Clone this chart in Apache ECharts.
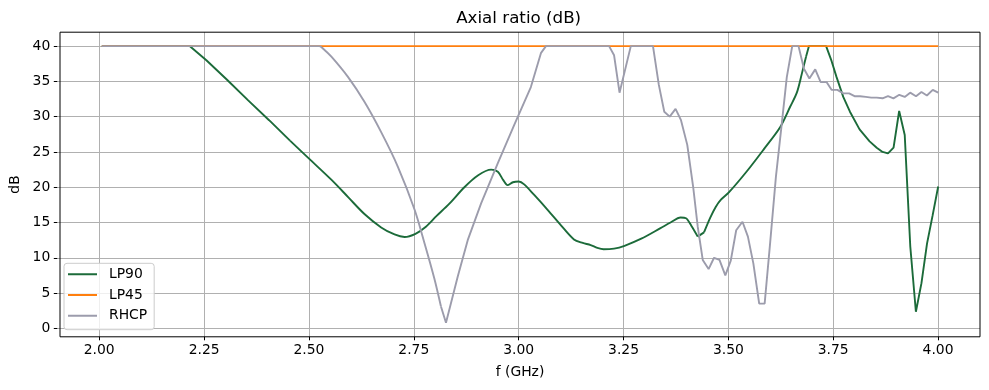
<!DOCTYPE html>
<html><head><meta charset="utf-8">
<script src="https://cdn.jsdelivr.net/npm/echarts@6/dist/echarts.min.js"></script>
<style>html,body{margin:0;padding:0;background:#fff}#c{width:989px;height:390px}</style>
</head><body><div id="c"></div>
<script>
// ---------- data ----------
const xTickValues = [2.00, 2.25, 2.50, 2.75, 3.00, 3.25, 3.50, 3.75, 4.00];
const yTickValues = [0, 5, 10, 15, 20, 25, 30, 35, 40];

const lp90X = [2.00, 2.21, 2.25, 2.30, 2.35, 2.40, 2.45, 2.50, 2.55, 2.589, 2.628, 2.668, 2.70, 2.724, 2.75, 2.775, 2.80, 2.83, 2.867, 2.90, 2.931, 2.947, 2.96, 2.97, 2.983, 2.997, 3.01, 3.034, 3.066, 3.098, 3.129, 3.15, 3.169, 3.185, 3.20, 3.225, 3.25, 3.29, 3.336, 3.36, 3.384, 3.397, 3.41, 3.425, 3.44, 3.455, 3.468, 3.48, 3.50, 3.543, 3.582, 3.622, 3.646, 3.662, 3.674, 3.684, 3.691, 3.732, 3.745, 3.757, 3.773, 3.789, 3.812, 3.836, 3.853, 3.867, 3.88, 3.8933, 3.9067, 3.92, 3.9333, 3.9467, 3.96, 3.9733, 3.9867, 4.00];
const lp90Y = [40, 40, 38.0, 35.2, 32.3, 29.5, 26.6, 23.8, 21.0, 18.6, 16.2, 14.3, 13.3, 12.95, 13.4, 14.4, 15.9, 17.6, 20.0, 21.7, 22.5, 22.2, 21.0, 20.3, 20.7, 20.8, 20.4, 18.9, 16.8, 14.6, 12.6, 12.1, 11.8, 11.4, 11.2, 11.3, 11.7, 12.7, 14.2, 15.0, 15.7, 15.6, 14.5, 13.0, 13.6, 15.7, 17.2, 18.2, 19.3, 22.3, 25.3, 28.5, 31.4, 33.4, 36.1, 38.5, 40, 40, 37.9, 35.6, 32.8, 30.7, 28.2, 26.5, 25.6, 25.0, 24.8, 25.6, 30.8, 27.4, 11.6, 2.35, 6.4, 12.0, 16.0, 20.1];

const lp45X = [2.00, 4.00];
const lp45Y = [40, 40];

const rhcpX = [2.00, 2.52, 2.53, 2.549, 2.589, 2.628, 2.668, 2.708, 2.748, 2.772, 2.795, 2.811, 2.823, 2.851, 2.875, 2.907, 2.947, 2.986, 3.026, 3.05, 3.062, 3.213, 3.225, 3.238, 3.265, 3.318, 3.332, 3.345, 3.358, 3.372, 3.385, 3.40, 3.414, 3.425, 3.437, 3.451, 3.464, 3.477, 3.491, 3.504, 3.517, 3.532, 3.545, 3.558, 3.572, 3.585, 3.598, 3.612, 3.626, 3.638, 3.651, 3.666, 3.679, 3.692, 3.706, 3.719, 3.733, 3.745, 3.759, 3.773, 3.787, 3.80, 3.813, 3.827, 3.84, 3.853, 3.867, 3.88, 3.893, 3.907, 3.92, 3.933, 3.947, 3.96, 3.973, 3.987, 4.00];
const rhcpY = [40, 40, 39.6, 38.5, 35.6, 32.1, 27.8, 22.9, 16.8, 12.0, 7.1, 3.1, 0.8, 7.3, 12.5, 17.7, 23.4, 28.8, 34.2, 39.0, 40, 40, 38.7, 33.4, 40, 40, 34.5, 30.7, 30.0, 31.1, 29.5, 26.0, 20.1, 14.4, 9.7, 8.4, 10.0, 9.7, 7.5, 9.6, 13.9, 15.1, 13.0, 9.2, 3.5, 3.5, 12.0, 21.5, 29.0, 35.6, 40, 40, 36.8, 35.4, 36.7, 34.9, 34.9, 33.8, 33.8, 33.3, 33.3, 32.9, 32.9, 32.8, 32.7, 32.7, 32.6, 32.9, 32.6, 33.1, 32.8, 33.4, 32.9, 33.5, 33.0, 33.8, 33.4];

// ---------- layout ----------
const W = 989, H = 390;
const plotLeft = 57.3, plotRight = 980, plotTop = 32.2, plotBottom = 336.8;
const xMin = 1.9, xMax = 4.1, yMin = -1.2, yMax = 41.97;
const xPx = v => plotLeft + (v - xMin) / (xMax - xMin) * (plotRight - plotLeft);
const yPx = v => plotTop + (yMax - v) / (yMax - yMin) * (plotBottom - plotTop);
const FONT = 'DejaVu Sans';
const zip = (a, b) => a.map((v, i) => [v, b[i]]);

const GREEN = '#1c6b3a', ORANGE = '#ff7f0e', GRAY = '#9c9cac';
const LW = 1.9;

// split a curve into pieces at given x breakpoints; alternate pieces smoothed as flagged
function pieces(name, xs, ys, breaks, smoothFlags, color, z) {
  const pts = zip(xs, ys);
  const idx = [0, ...breaks.map(b => xs.indexOf(b)), xs.length - 1];
  const out = [];
  for (let i = 0; i < idx.length - 1; i++) {
    out.push({
      name, type: 'line', xAxisIndex: 0, yAxisIndex: 0,
      data: pts.slice(idx[i], idx[i + 1] + 1),
      showSymbol: false, symbol: 'none', smooth: smoothFlags[i] ? 0.3 : false,
      color, lineStyle: {width: LW, color}, z
    });
  }
  return out;
}

const chart = echarts.init(document.getElementById('c'), null, {renderer: 'canvas'});
const legendIcon = 'path://M0,6h29v2h-29z M36,0 M36,14';

chart.setOption({
  animation: false,
  backgroundColor: '#fff',
  textStyle: {fontFamily: FONT},
  graphic: [{
    type: 'text', x: (plotLeft + plotRight) / 2, y: 18.5, z: 10,
    style: {text: 'Axial ratio (dB)', fontFamily: FONT, fontSize: 16.7, fill: '#000', align: 'center', verticalAlign: 'middle'}
  }],
  grid: [
    {left: plotLeft, right: W - plotRight, top: plotTop, bottom: H - plotBottom, show: true, borderColor: '#000', borderWidth: 1, backgroundColor: 'transparent', z: 3},
    {left: xPx(2), right: W - xPx(4), top: plotTop, bottom: H - plotBottom},
    {left: plotLeft, right: W - plotRight, top: yPx(40), bottom: H - yPx(0)}
  ],
  xAxis: [
    {gridIndex: 0, type: 'value', min: xMin, max: xMax, axisLine: {show: false}, axisTick: {show: false}, axisLabel: {show: false}, splitLine: {show: false},
     name: 'f (GHz)', nameLocation: 'middle', nameGap: 29, nameTextStyle: {fontFamily: FONT, fontSize: 13.9, color: '#000'}},
    {gridIndex: 1, type: 'value', min: 2, max: 4, interval: 0.25, axisLine: {show: false},
     axisTick: {show: true, length: 3.5, lineStyle: {color: '#000', width: 1}},
     axisLabel: {show: true, margin: 7, color: '#000', fontFamily: FONT, fontSize: 13.9, formatter: v => Number(v).toFixed(2)},
     splitLine: {show: true, lineStyle: {color: '#b0b0b0', width: 1}}},
    {gridIndex: 2, type: 'value', min: 0, max: 1, show: false}
  ],
  yAxis: [
    {gridIndex: 0, type: 'value', min: yMin, max: yMax, axisLine: {show: false}, axisTick: {show: false}, axisLabel: {show: false}, splitLine: {show: false},
     name: 'dB', nameLocation: 'middle', nameGap: 38, nameTextStyle: {fontFamily: FONT, fontSize: 13.9, color: '#000'}},
    {gridIndex: 1, type: 'value', min: 0, max: 1, show: false},
    {gridIndex: 2, type: 'value', min: 0, max: 40, interval: 5, axisLine: {show: false},
     axisTick: {show: true, length: 3.5, lineStyle: {color: '#000', width: 1}},
     axisLabel: {show: true, margin: 7, color: '#000', fontFamily: FONT, fontSize: 13.9},
     splitLine: {show: true, lineStyle: {color: '#b0b0b0', width: 1}}}
  ],
  legend: {
    data: ['LP90', 'LP45', 'RHCP'], orient: 'vertical', left: 64, top: 263.3,
    icon: legendIcon, itemWidth: 36, itemHeight: 14, itemGap: 6.7,
    itemStyle: {borderWidth: 0},
    padding: [4, 7, 7, 4], borderColor: '#cccccc', borderWidth: 1, borderRadius: 3,
    backgroundColor: 'rgba(255,255,255,0.8)',
    textStyle: {fontFamily: FONT, fontSize: 13.9, color: '#000', lineHeight: 14}, z: 10
  },
  series: [
    ...pieces('LP90', lp90X, lp90Y, [2.45, 3.425, 3.44, 3.684], [false, true, false, true, false], GREEN, 4),
    {name: 'LP45', type: 'line', xAxisIndex: 0, yAxisIndex: 0, data: zip(lp45X, lp45Y), showSymbol: false, symbol: 'none', color: ORANGE, lineStyle: {width: LW, color: ORANGE}, z: 5},
    ...pieces('RHCP', rhcpX, rhcpY, [2.811], [true, false], GRAY, 6)
  ]
});
</script>
</body></html>
